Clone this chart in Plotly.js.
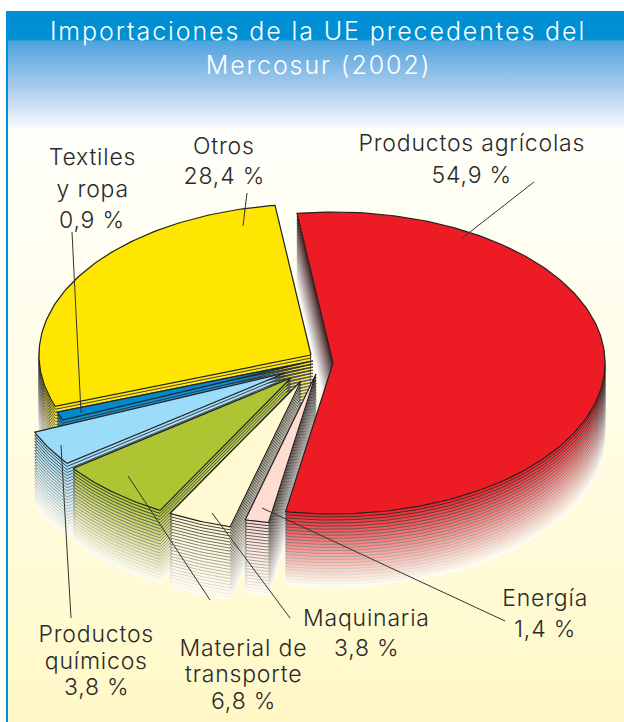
<!DOCTYPE html>
<html><head><meta charset="utf-8">
<script src="https://cdn.plot.ly/plotly-3.0.1.min.js"></script>
<style>html,body{margin:0;padding:0;background:#fff}#c{width:624px;height:722px}
.annotation text{letter-spacing:0.8px}
.annotation[data-index="0"] text,.annotation[data-index="1"] text{letter-spacing:1.9px}</style>
</head><body><div id="c"></div>
<script>
// --- data ---
var categories = ['Otros','Textiles y ropa','Productos químicos','Material de transporte','Maquinaria','Energía','Productos agrícolas'];
var shares = [28.4, 0.9, 3.8, 6.8, 3.8, 1.4, 54.9];
var colors = ['#ffe600','#0089cf','#9bdcfa','#afc433','#fffad2','#fedcd2','#ed1c24'];
// --- layout geometry ---
var apexX = [311,313,285,291,301,316,333];
var apexY = [355,361,373,378,381,374,363];
var RX = 272, RY = 151, START = 97.6, LAYERS = 24, GAP = 3.05;
var titleLines = ['Importaciones de la UE precedentes del','Mercosur (2002)'];
var titleYs = [31,65];
var labelTexts = ['Productos agrícolas','54,9 %','Otros','28,4 %','Textiles','y ropa','0,9 %','Productos','químicos','3,8 %','Material de','transporte','6,8 %','Maquinaria','3,8 %','Energía','1,4 %'];
var labelXs = [472,472,224,224,92,92,92,96,96,96,243,243,243,366,366,545,545];
var labelYs = [143,175,146,176,157,189,220,634,661,687,648,674,701,618,648,598,629];
var leaders = [[534,182,461,239],[247,193,243,226],[72,232,81,413],[61,445,71,618],[128,476,210,600],[212,513,290,618],[262,508,505,621]];

function hex(c){return [parseInt(c.substr(1,2),16),parseInt(c.substr(3,2),16),parseInt(c.substr(5,2),16)];}
function mix(a,b,t){var r=[];for(var i=0;i<3;i++)r.push(Math.round(a[i]+(b[i]-a[i])*t));return 'rgb('+r.join(',')+')';}
var traces = [];
// panel background
traces.push({x:[6,624,624,6,6],y:[128,128,722,722,128],mode:'lines',fill:'toself',line:{width:0},hoverinfo:'skip',
  fillgradient:{type:'vertical',colorscale:[[0,'#fff8c6'],[0.4,'#fffcdf'],[1,'#fffffa']]}});
traces.push({x:[6,624,624,6,6],y:[11,11,128,128,11],mode:'lines',fill:'toself',line:{width:0},hoverinfo:'skip',
  fillgradient:{type:'vertical',colorscale:[[0,'#f6fafd'],[0.35,'#a9cbec'],[0.74,'#4ea3de'],[0.76,'#0090d4'],[1,'#008ed2']]}});
traces.push({x:[7,7],y:[11,722],mode:'lines',line:{width:2,color:'#0090d4'},hoverinfo:'skip'});

var a0 = START;
categories.forEach(function(name,i){
  var sweep = shares[i]*3.6, xs=[apexX[i]], ys=[apexY[i]];
  for(var k=0;k<=Math.ceil(sweep);k++){
    var a=(a0+sweep*k/Math.ceil(sweep))*Math.PI/180;
    xs.push(apexX[i]+RX*Math.cos(a)); ys.push(apexY[i]-RY*Math.sin(a));
  }
  xs.push(apexX[i]); ys.push(apexY[i]);
  a0 += sweep;
  var base = hex(colors[i]);
  for(var l=LAYERS;l>=0;l--){
    var t=l/LAYERS, d=l*GAP;
    traces.push({x:xs,y:ys.map(function(v){return v+d;}),mode:'lines',fill:'toself',name:name,hoverinfo:l?'skip':'name',
      fillcolor:l?mix(base,[255,252,235],Math.pow(t,0.9)):colors[i],
      line:{width:l?0.9:1.2,color:l?mix([35,35,35],[250,250,250],Math.pow(t,0.95)):'#222222'}});
  }
});
var annotations = titleLines.map(function(s,i){
  return {x:318,y:titleYs[i],text:s,showarrow:false,xanchor:'center',yanchor:'middle',font:{family:'Inter',size:25,weight:300,color:'#ffffff'}};
}).concat(labelTexts.map(function(s,i){
  return {x:labelXs[i],y:labelYs[i],text:s,showarrow:false,xanchor:'center',yanchor:'middle',font:{family:'Inter',size:23,weight:300,color:'#2a2a2a'}};
}));
var shapes = leaders.map(function(p){return {type:'line',x0:p[0],y0:p[1],x1:p[2],y1:p[3],xref:'x',yref:'y',layer:'above',line:{color:'#333333',width:1}};});
Plotly.newPlot('c',traces,{
  width:624,height:722,margin:{l:0,r:0,t:0,b:0},showlegend:false,paper_bgcolor:'#ffffff',plot_bgcolor:'rgba(0,0,0,0)',
  xaxis:{range:[0,624],visible:false,fixedrange:true},yaxis:{range:[722,0],visible:false,fixedrange:true},
  annotations:annotations,shapes:shapes
},{displayModeBar:false,staticPlot:true});
</script></body></html>
